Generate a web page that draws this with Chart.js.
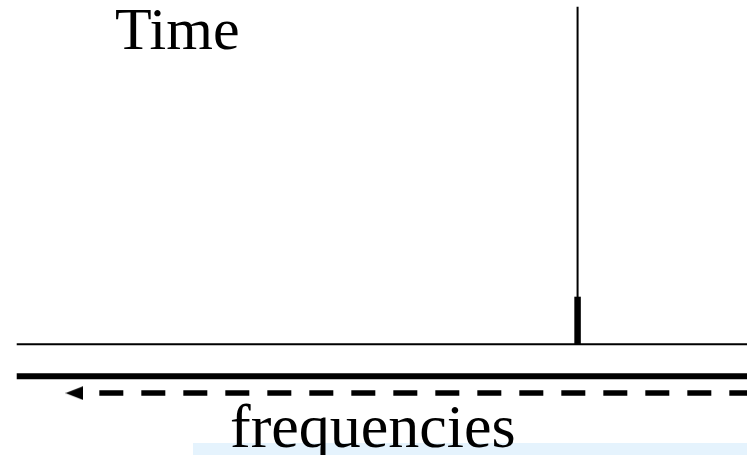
<!DOCTYPE html>
<html>
<head>
<meta charset="utf-8">
<script src="https://cdn.jsdelivr.net/npm/chart.js@4"></script>
<style>
  html, body { margin: 0; padding: 0; background: #ffffff; }
  #wrap { width: 747px; height: 455px; }
</style>
</head>
<body>
<div id="wrap"><canvas id="c" width="747" height="455"></canvas></div>
<script>
// ---- data ----
const timeAxisRange = [0, 1];          // time axis extent (normalized)
const impulseTimes = [0.768];          // time of the impulse
const impulseHeights = [1];            // full impulse amplitude
const impulseBaseHeights = [0.141];    // thick base segment of the impulse
const bandLevels = [-0.0948];          // thick frequency band line
const freqArrowLevels = [-0.1445];     // dashed frequency arrow
const freqArrowRange = [0.1131, 1];    // dashed part extent
const arrowHeadPos = [0.0791];         // arrowhead centre
const labels = { time: 'Time', freq: 'frequencies' };

// arrowhead image (points left)
const head = document.createElement('canvas');
head.width = 18; head.height = 14;
(function(){
  const g = head.getContext('2d');
  g.fillStyle = '#000';
  g.beginPath();
  g.moveTo(0, 7); g.lineTo(18, 0); g.lineTo(18, 14); g.closePath();
  g.fill();
})();

const datasets = [
  { // time axis baseline
    data: timeAxisRange.map(t => ({x: t, y: 0})),
    borderColor: '#000', borderWidth: 2, pointRadius: 0
  },
  { // impulse thin line
    data: [{x: impulseTimes[0], y: 0}, {x: impulseTimes[0], y: impulseHeights[0]}],
    borderColor: '#000', borderWidth: 2, pointRadius: 0
  },
  { // impulse thick base
    data: [{x: impulseTimes[0], y: -0.002}, {x: impulseTimes[0], y: impulseBaseHeights[0]}],
    borderColor: '#000', borderWidth: 6.5, pointRadius: 0
  },
  { // thick band
    data: timeAxisRange.map(t => ({x: t, y: bandLevels[0]})),
    borderColor: '#000', borderWidth: 6, pointRadius: 0
  },
  { // dashed arrow shaft
    data: freqArrowRange.map(t => ({x: t, y: freqArrowLevels[0]})),
    borderColor: '#000', borderWidth: 5.5, pointRadius: 0,
    borderDash: [24, 18], borderCapStyle: 'butt'
  },
  { // arrowhead
    data: [{x: arrowHeadPos[0], y: freqArrowLevels[0]}],
    showLine: false, pointStyle: head, pointRadius: 9
  }
];

const overlay = {
  id: 'overlay',
  beforeDatasetsDraw(chart) {
    const ctx = chart.ctx;
    ctx.save();
    ctx.fillStyle = '#e5f3fd';
    ctx.fillRect(193, 443, 554, 12);
    ctx.restore();
  },
  afterDatasetsDraw(chart) {
    const ctx = chart.ctx;
    ctx.save();
    ctx.fillStyle = '#000';
    ctx.textBaseline = 'alphabetic';
    ctx.textAlign = 'left';
    ctx.font = '60px "Liberation Serif", "Times New Roman", serif';
    ctx.fillText(labels.time, 115, 49);
    ctx.font = '62px "Liberation Serif", "Times New Roman", serif';
    ctx.fillText(labels.freq, 230, 446.5);
    ctx.restore();
  }
};

new Chart(document.getElementById('c'), {
  type: 'line',
  data: { datasets },
  options: {
    responsive: false,
    animation: false,
    events: [],
    layout: { padding: 0, autoPadding: false },
    elements: { line: { tension: 0, borderCapStyle: 'butt' } },
    datasets: { line: { clip: false } },
    plugins: { legend: { display: false }, tooltip: { enabled: false }, title: { display: false } },
    scales: {
      x: { type: 'linear', display: false, min: -0.0229, max: 1 },
      y: { type: 'linear', display: false, min: -0.3279, max: 1.0198 }
    }
  },
  plugins: [overlay]
});
</script>
</body>
</html>
